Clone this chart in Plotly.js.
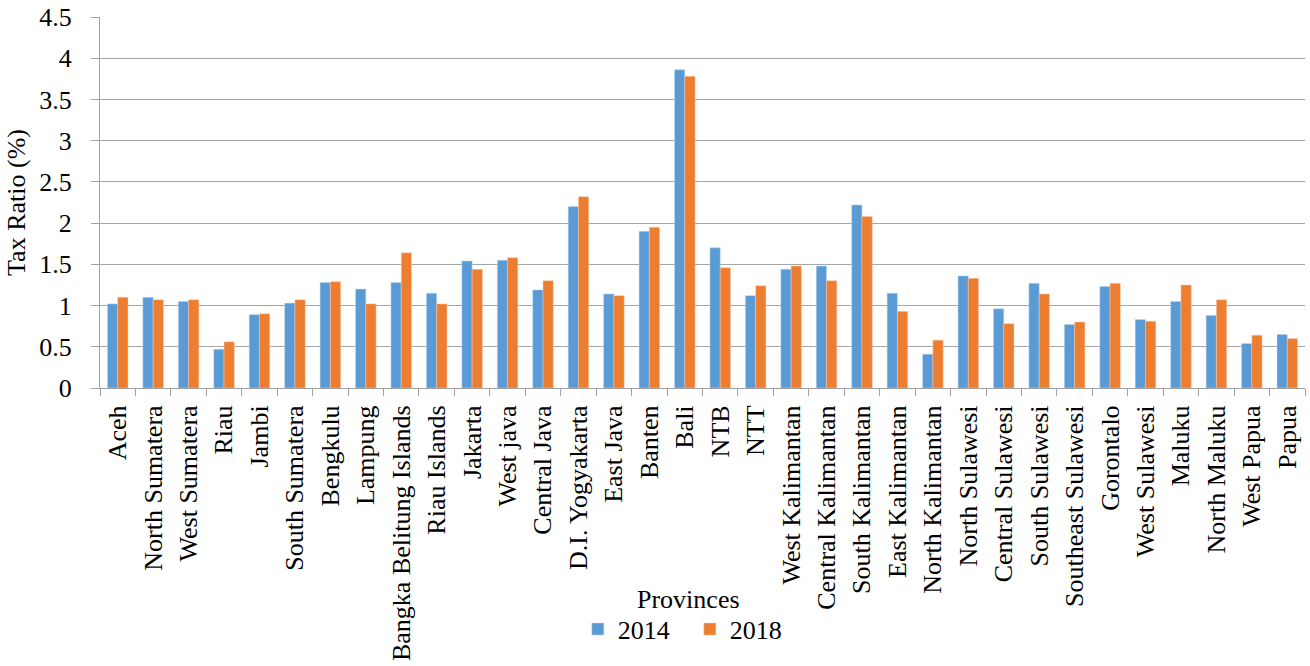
<!DOCTYPE html>
<html>
<head>
<meta charset="utf-8">
<script src="https://cdn.plot.ly/plotly-3.0.1.min.js"></script>
<style>html,body{margin:0;padding:0;background:#fff;}#chart{width:1310px;height:666px;}</style>
</head>
<body>
<div id="chart"></div>
<script>
const provinces = ["Aceh","North Sumatera","West Sumatera","Riau","Jambi","South Sumatera","Bengkulu","Lampung","Bangka Belitung Islands","Riau Islands","Jakarta","West java","Central Java","D.I. Yogyakarta","East Java","Banten","Bali","NTB","NTT","West Kalimantan","Central Kalimantan","South Kalimantan","East Kalimantan","North Kalimantan","North Sulawesi","Central Sulawesi","South Sulawesi","Southeast Sulawesi","Gorontalo","West Sulawesi","Maluku","North Maluku","West Papua","Papua"];
const values2014 = [1.02,1.10,1.05,0.47,0.89,1.03,1.28,1.20,1.28,1.15,1.54,1.55,1.19,2.20,1.14,1.90,3.86,1.70,1.12,1.44,1.48,2.22,1.15,0.41,1.36,0.96,1.27,0.77,1.23,0.83,1.05,0.88,0.54,0.65];
const values2018 = [1.10,1.07,1.07,0.56,0.90,1.07,1.29,1.02,1.64,1.02,1.44,1.58,1.30,2.32,1.12,1.95,3.78,1.46,1.24,1.48,1.30,2.08,0.93,0.58,1.33,0.78,1.14,0.80,1.27,0.81,1.25,1.07,0.64,0.60];
const seriesNames = ["2014","2018"];
const yTicks = [0,0.5,1,1.5,2,2.5,3,3.5,4,4.5];

const fam = "'Liberation Serif', serif";
const f = (s) => ({family: fam, size: s, color: "#000"});
const traces = [
  {type:"bar", name:seriesNames[0], x:provinces, y:values2014, marker:{color:"#5B9BD5", line:{color:"#BDD7EE", width:0.5}}},
  {type:"bar", name:seriesNames[1], x:provinces, y:values2018, marker:{color:"#ED7D31", line:{color:"#F8CBAD", width:0.5}}}
];
const layout = {
  width:1310, height:666,
  margin:{l:100, r:5, t:17, b:278},
  paper_bgcolor:"#fff", plot_bgcolor:"#fff",
  font:f(26),
  barmode:"group", bargap:0.42, bargroupgap:0,
  showlegend:true,
  legend:{orientation:"h", x:0.4895, xanchor:"center", y:-0.65, yanchor:"middle", font:f(26), traceorder:"normal",
          entrywidth:67, entrywidthmode:"pixels"},
  xaxis:{type:"category", tickson:"boundaries", ticks:"outside", ticklen:7, tickcolor:"#a0a0a0", tickwidth:1,
         showline:true, linecolor:"#a0a0a0", linewidth:1, tickangle:-90, tickfont:f(26), showgrid:false,
         ticklabelstandoff:6},
  yaxis:{range:[0,4.5], tickvals:yTicks, ticktext:yTicks.map(String), ticks:"outside", ticklen:8, tickcolor:"#a0a0a0",
         showline:true, linecolor:"#a0a0a0", linewidth:1, showgrid:true, gridcolor:"#a6a6a6", gridwidth:1,
         tickfont:f(26), zeroline:false, ticklabelstandoff:14,
         title:{text:"Tax Ratio (%)", font:f(26), standoff:6}},
  annotations:[{text:"Provinces", xref:"paper", yref:"paper", x:0.488, y:-0.571, showarrow:false, font:f(26), xanchor:"center", yanchor:"middle"}]
};
Plotly.newPlot("chart", traces, layout, {displayModeBar:false, staticPlot:true});
</script>
</body>
</html>
